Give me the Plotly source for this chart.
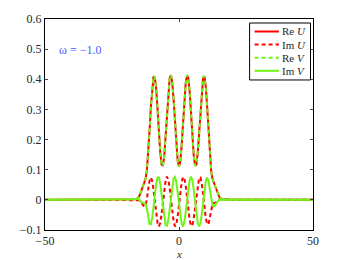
import plotly.graph_objects as go

x_vals = [-50, -20, -18,
          -16.0, -15.5, -15.0, -14.5, -14.0, -13.5, -13.0, -12.5, -12.0, -11.5, -11.0, -10.5,
          -10.0, -9.5, -9.0, -8.5, -8.0, -7.5, -7.0, -6.5, -6.0, -5.5, -5.0, -4.5,
          -4.0, -3.5, -3.0, -2.5, -2.0, -1.5, -1.0, -0.5, 0.0, 0.5, 1.0, 1.5,
          2.0, 2.5, 3.0, 3.5, 4.0, 4.5, 5.0, 5.5, 6.0, 6.5, 7.0, 7.5,
          8.0, 8.5, 9.0, 9.5, 10.0, 10.5, 11.0, 11.5, 12.0, 12.5, 13.0, 13.5,
          14.0, 14.5, 15.0, 15.5, 16.0,
          18, 20, 50]

re_u = [0, 0, 0.0,
        0.002, 0.005, 0.010, 0.019, 0.032, 0.046, 0.057, 0.069, 0.097, 0.152, 0.228, 0.309,
        0.375, 0.410, 0.406, 0.366, 0.300, 0.224, 0.157, 0.117, 0.113, 0.147, 0.210, 0.286,
        0.356, 0.403, 0.414, 0.388, 0.330, 0.255, 0.182, 0.129, 0.110, 0.129, 0.182, 0.255,
        0.330, 0.388, 0.414, 0.403, 0.356, 0.286, 0.210, 0.147, 0.113, 0.117, 0.157, 0.224,
        0.300, 0.366, 0.406, 0.410, 0.375, 0.309, 0.228, 0.152, 0.097, 0.069, 0.057, 0.046,
        0.032, 0.019, 0.010, 0.005, 0.002,
        0, 0, 0]

re_v = [0, 0, 0.0,
        0.002, 0.005, 0.010, 0.019, 0.032, 0.046, 0.057, 0.069, 0.097, 0.152, 0.228, 0.309,
        0.375, 0.410, 0.406, 0.366, 0.300, 0.224, 0.157, 0.117, 0.113, 0.147, 0.210, 0.286,
        0.356, 0.403, 0.414, 0.388, 0.330, 0.255, 0.182, 0.129, 0.110, 0.129, 0.182, 0.255,
        0.330, 0.388, 0.414, 0.403, 0.356, 0.286, 0.210, 0.147, 0.113, 0.117, 0.157, 0.224,
        0.300, 0.366, 0.406, 0.410, 0.375, 0.309, 0.228, 0.152, 0.097, 0.069, 0.057, 0.046,
        0.032, 0.019, 0.010, 0.005, 0.002,
        0, 0, 0]

im_v = [0, 0, 0.002,
        0.003, 0.004, 0.002, -0.004, -0.008, -0.010, -0.011, -0.014, -0.028, -0.058, -0.080, -0.081,
        -0.060, -0.024, 0.017, 0.053, 0.074, 0.074, 0.054, 0.018, -0.024, -0.062, -0.084, -0.086,
        -0.068, -0.033, 0.009, 0.047, 0.072, 0.076, 0.059, 0.026, -0.016, -0.055, -0.081, -0.088,
        -0.073, -0.041, 0.001, 0.041, 0.068, 0.077, 0.064, 0.033, -0.008, -0.048, -0.077, -0.088,
        -0.077, -0.048, -0.008, 0.033, 0.063, 0.074, 0.063, 0.035, 0.001, -0.018, -0.022, -0.018,
        -0.010, -0.004, -0.001, 0.001, 0.001,
        0, 0, 0]

im_u = [0, 0, 0,
        0.001, 0.001, -0.001, -0.004, -0.010, -0.018, -0.022, -0.018, 0.001, 0.035, 0.063, 0.074,
        0.063, 0.033, -0.008, -0.048, -0.077, -0.088, -0.077, -0.048, -0.008, 0.033, 0.064, 0.077,
        0.068, 0.041, 0.001, -0.041, -0.073, -0.088, -0.081, -0.055, -0.016, 0.026, 0.059, 0.076,
        0.072, 0.047, 0.009, -0.033, -0.068, -0.086, -0.084, -0.062, -0.024, 0.018, 0.054, 0.074,
        0.074, 0.053, 0.017, -0.024, -0.060, -0.081, -0.080, -0.058, -0.028, -0.014, -0.011, -0.010,
        -0.008, -0.004, 0.002, 0.004, 0.003,
        0.002, 0, 0]

x_ticks = [-50, 0, 50]
y_ticks = [-0.1, 0, 0.1, 0.2, 0.3, 0.4, 0.5, 0.6]
legend_labels = ["Re <i>U</i>", "Im <i>U</i>", "Re <i>V</i>", "Im <i>V</i>"]

RED = "#ff0000"
GREEN = "rgb(110,245,20)"
DASH = "4px,3px"
FONT = "Liberation Serif"
TXT = "#262626"

styles = [dict(color=RED, width=2),
          dict(color=RED, width=2, dash=DASH),
          dict(color=GREEN, width=2, dash=DASH),
          dict(color=GREEN, width=2)]

fig = go.Figure()
for yv, lab, st in zip([re_u, im_u, re_v, im_v], legend_labels, styles):
    fig.add_trace(go.Scatter(x=x_vals, y=yv, mode="lines", name=lab,
                             line=st, showlegend=False))

# hand-drawn legend (compact MATLAB-style box)
fig.add_shape(type="rect", xref="paper", yref="paper",
              x0=0.7635, x1=0.9907, y0=0.711, y1=0.981,
              line=dict(color="black", width=1), fillcolor="white", layer="above")
entry_y = [0.9408, 0.8787, 0.8166, 0.7545]
for ey, lab, st in zip(entry_y, legend_labels, styles):
    fig.add_shape(type="line", xref="paper", yref="paper",
                  x0=0.7821, x1=0.8726, y0=ey, y1=ey, line=st, layer="above")
    fig.add_annotation(text=lab, x=0.8800, y=ey, xref="paper", yref="paper",
                       xanchor="left", yanchor="middle", showarrow=False,
                       height=12, borderpad=0, valign="middle",
                       font=dict(family=FONT, size=11, color=TXT))

fig.add_annotation(text="ω = −1.0", x=0.046, y=0.853, xref="paper", yref="paper",
                   xanchor="left", yanchor="middle", showarrow=False,
                   font=dict(family=FONT, size=12, color="#3f5fff"))

# x-axis title
fig.add_annotation(text="<i>x</i>", x=0.5, y=-0.074, xref="paper", yref="paper",
                   xanchor="center", yanchor="top", showarrow=False,
                   font=dict(family=FONT, size=11, color=TXT))

fig.update_layout(
    width=346, height=260,
    margin=dict(l=37, r=40.5, t=11, b=38),
    paper_bgcolor="white", plot_bgcolor="white",
    font=dict(family=FONT, size=12, color=TXT),
    showlegend=False,
    xaxis=dict(range=[-50, 50], tickvals=x_ticks, ticks="inside", ticklen=3,
               showline=True, linecolor="black", linewidth=1, mirror="ticks",
               showgrid=False, zeroline=False, automargin=False),
    yaxis=dict(range=[-0.1, 0.6], tickvals=y_ticks, ticks="inside", ticklen=3,
               showline=True, linecolor="black", linewidth=1, mirror="ticks",
               showgrid=False, zeroline=False, automargin=False),
)

fig.write_html("out.html")
